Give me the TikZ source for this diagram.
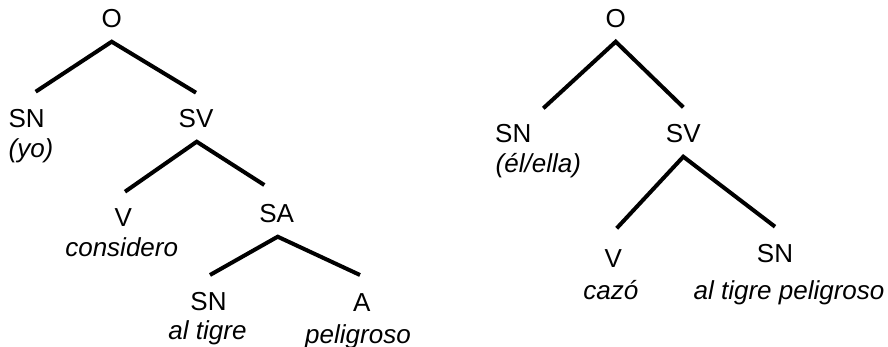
\documentclass[tikz,border=0pt]{standalone}
\usepackage{fontspec}
\setmainfont{Liberation Sans}
\begin{document}
\begin{tikzpicture}[x=1pt,y=-1pt,
  cat/.style={anchor=base,inner sep=0pt,font=\fontsize{26}{30}\selectfont},
  word/.style={anchor=base,inner sep=0pt,font=\fontsize{26}{30}\selectfont\itshape},
  branch/.style={line width=4pt,line cap=butt,line join=miter}]
\useasboundingbox (0,0) rectangle (888,347);

% first tree
\node[cat]  (O1)  at (111.7,28)  {O};
\node[cat]  (SN1) at (26.7,128)  {SN};
\node[word] (yo)  at (31,158)    {(yo)};
\node[cat]  (SV1) at (196,128)   {SV};
\node[cat]  (V1)  at (123.3,227) {V};
\node[word] (considero) at (121.7,256) {considero};
\node[cat]  (SA)  at (276.7,223) {SA};
\node[cat]  (SN2) at (208.5,310) {SN};
\node[word] (tigre) at (207.5,339) {al tigre};
\node[cat]  (A)   at (361.7,311.7) {A};
\node[word] (peligroso) at (358,343) {peligroso};

\draw[branch] ([xshift=9pt,yshift=36.3pt]SN1.base) -- ([yshift=-13.7pt]O1.base) -- ([yshift=35.3pt]SV1.base);
\draw[branch] ([xshift=1.7pt,yshift=35.3pt]V1.base) -- ([xshift=0.7pt,yshift=-13.7pt]SV1.base) -- ([xshift=-12.4pt,yshift=38pt]SA.base);
\draw[branch] ([xshift=1.5pt,yshift=35pt]SN2.base) -- ([xshift=1pt,yshift=-13.7pt]SA.base) -- ([xshift=-1.7pt,yshift=36.7pt]A.base);

% second tree
\node[cat]  (O2)  at (615.7,28)  {O};
\node[cat]  (SN3) at (513.3,143) {SN};
\node[word] (ella) at (538.3,173) {(él/ella)};
\node[cat]  (SV2) at (683.3,143) {SV};
\node[cat]  (V2)  at (613.3,267) {V};
\node[word] (cazo) at (610.8,299) {cazó};
\node[cat]  (SN4) at (775,262)   {SN};
\node[word] (tigrepel) at (789,299) {al tigre peligroso};

\draw[branch] ([xshift=30pt,yshift=34.7pt]SN3.base) -- ([yshift=-13.7pt]O2.base) -- ([yshift=35.7pt]SV2.base);
\draw[branch] ([xshift=3.4pt,yshift=38.7pt]V2.base) -- ([yshift=-13.7pt]SV2.base) -- ([yshift=35.3pt]SN4.base);
\end{tikzpicture}
\end{document}
